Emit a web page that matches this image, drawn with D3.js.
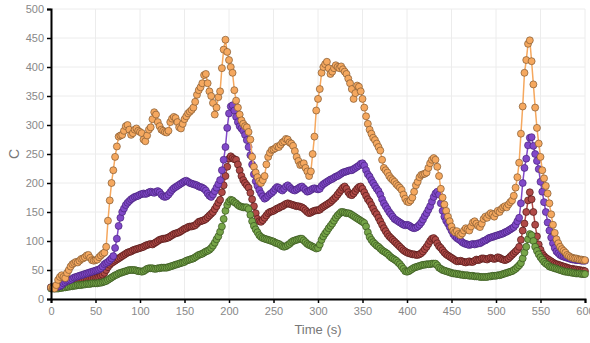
<!DOCTYPE html>
<html><head><meta charset="utf-8">
<script src="https://cdn.jsdelivr.net/npm/d3@7"></script>
<style>
html,body{margin:0;padding:0;background:#fff;}
svg{display:block;font-family:"Liberation Sans",Arial,sans-serif;}
</style></head>
<body><svg id="c" width="590" height="343"></svg>
<script>
// sampling: one value every 2 s, t = 0 .. 600
const timeStep = 2;
const xTicks = [0,50,100,150,200,250,300,350,400,450,500,550,600];
const yTicks = [0,50,100,150,200,250,300,350,400,450,500];
const xLabel = "Time (s)";
const yLabel = "C";

const seriesNames = ["S1","S2","S3","S4"];

const orange = [
20,19,18,24,33,38,41,38,36,45,
50,56,60,62,64,63,66,69,70,72,
75,76,71,67,66,67,68,72,75,78,
80,90,135,170,200,222,245,263,280,282,
283,290,298,300,292,283,286,292,294,290,
288,286,275,272,282,292,296,310,322,318,
305,298,292,290,288,287,290,305,311,314,
312,305,296,294,302,310,315,320,323,326,
330,340,352,360,365,372,386,388,372,358,
350,338,318,330,348,358,398,430,447,426,
412,400,390,360,342,330,318,308,302,298,
296,288,275,245,228,218,210,203,200,205,
212,232,245,252,257,258,260,263,262,266,
270,272,276,275,270,268,264,255,245,238,
231,232,234,226,220,212,220,250,280,325,
345,362,390,400,405,409,398,388,392,398,
403,400,398,401,396,392,388,380,372,362,
345,355,368,366,358,345,330,315,302,292,
285,278,274,268,262,256,240,226,222,218,
212,208,205,202,198,195,192,188,180,173,
168,167,170,175,185,196,202,210,214,215,
216,218,226,234,240,243,240,228,212,190,
175,163,152,142,134,125,118,115,117,112,
110,113,118,122,120,118,125,132,134,130,
126,124,130,138,142,140,145,148,146,142,
148,152,150,155,158,160,158,163,167,170,
178,192,210,235,285,332,390,412,440,446,
410,370,330,295,268,245,222,208,195,182,
165,146,128,114,103,96,90,86,83,80,
76,74,72,71,70,70,69,68,68,67,
67];

const purple = [
20,20,20,21,21,22,24,27,29,31,
32,33,35,37,38,39,40,41,42,43,
44,45,46,47,48,49,50,51,53,56,
60,62,64,67,70,74,88,104,126,140,
150,156,162,166,169,172,174,176,177,178,
180,181,182,181,182,184,185,184,183,185,
186,184,180,177,176,177,180,184,188,191,
193,195,197,199,201,203,204,202,200,199,
198,197,196,194,193,192,190,187,182,178,
176,180,186,192,198,205,222,240,262,295,
320,332,334,325,314,305,298,294,290,283,
274,262,248,232,215,203,195,188,182,177,
173,175,178,181,183,186,190,193,192,189,
187,190,194,196,193,190,188,187,189,191,
193,194,191,188,185,186,188,190,191,190,
189,190,195,198,200,202,204,206,207,209,
211,212,214,216,218,219,220,221,222,222,
224,226,228,230,233,234,230,222,215,211,
205,200,195,190,186,180,172,165,160,155,
150,146,142,138,136,134,132,130,128,127,
128,127,125,123,122,123,125,128,132,137,
143,148,154,160,168,176,182,185,180,165,
152,142,135,130,124,118,112,108,105,103,
101,98,96,95,94,93,94,95,94,95,
96,96,98,100,101,103,105,106,107,108,
109,110,111,112,113,115,116,118,120,122,
124,128,134,140,165,200,226,242,265,278,
279,264,250,238,224,202,185,167,150,132,
118,106,96,88,82,79,76,74,73,72,
71,70,69,68,68,67,67,67,66,66,
66];

const red = [
20,20,20,20,20,21,22,23,24,25,
26,27,28,29,30,31,32,33,33,34,
35,35,36,36,36,37,37,38,40,42,
45,50,55,59,62,64,66,68,70,72,
74,76,78,80,81,82,84,85,86,87,
88,89,90,92,93,94,95,94,96,98,
100,102,103,104,104,105,106,108,110,112,
113,114,115,117,119,121,122,124,125,125,
126,127,130,133,134,135,136,138,141,144,
147,150,155,160,166,171,184,196,212,228,
242,246,243,241,240,232,222,212,205,200,
196,192,183,172,160,148,138,134,133,136,
140,144,148,150,151,152,154,156,157,159,
160,162,164,165,164,163,162,161,160,160,
159,158,156,153,150,148,149,151,152,153,
153,154,157,159,161,163,165,167,170,173,
176,180,184,188,192,194,190,184,180,179,
182,186,190,193,194,190,184,178,172,168,
162,156,150,146,140,134,128,122,117,112,
108,105,102,99,96,93,90,87,84,82,
80,79,78,77,77,76,76,77,79,82,
86,90,95,100,104,105,102,96,91,88,
84,80,77,75,73,71,69,67,65,65,
66,65,64,63,64,65,64,64,66,68,
67,68,70,70,69,68,70,71,70,69,
70,72,71,69,68,67,68,70,73,76,
79,82,85,90,102,118,130,150,170,184,
172,150,128,108,94,85,78,74,71,69,
67,65,63,61,60,59,58,57,56,55,
54,53,52,52,51,51,50,50,49,49,
48];

const green = [
18,18,18,18,18,19,19,20,20,21,
21,22,22,23,23,24,24,24,25,25,
26,26,26,27,27,27,27,28,28,29,
30,31,33,35,37,39,41,42,44,45,
46,47,48,49,50,50,50,50,49,48,
48,47,48,50,52,53,53,53,52,52,
53,53,54,54,54,54,55,56,57,58,
59,60,61,62,63,64,66,67,68,69,
70,72,74,76,77,78,80,82,83,85,
88,92,97,103,108,116,125,138,152,162,
168,171,170,167,165,162,160,159,158,158,
158,155,145,134,126,120,115,110,107,105,
104,103,102,101,100,99,97,96,95,93,
91,90,91,93,95,98,100,101,102,103,
104,104,101,98,95,93,92,90,89,87,
88,94,102,108,113,117,122,126,130,135,
140,144,147,150,150,149,148,148,147,145,
143,141,139,137,135,133,131,125,115,107,
102,98,95,92,90,87,84,82,80,78,
75,72,70,68,66,63,60,56,52,48,
47,48,50,52,54,55,56,57,58,59,
59,60,60,60,61,61,61,58,54,52,
50,49,48,47,46,45,44,44,43,43,
42,42,41,41,41,40,40,40,39,39,
39,38,38,38,38,38,39,39,40,40,
40,41,41,42,43,44,45,46,47,48,
50,52,55,58,62,70,80,90,103,112,
110,100,90,83,77,72,68,64,61,59,
56,55,54,53,52,51,50,49,48,47,
47,46,46,45,45,44,44,44,43,43,
43];

// drawing order (bottom to top) and styles
const layers = [
  {values: red,    fill:"#b04a47", stroke:"#4e1616", line:"#b04a47"},
  {values: green,  fill:"#76a548", stroke:"#34501c", line:"#76a548"},
  {values: purple, fill:"#8149c8", stroke:"#46207a", line:"#8149c8"},
  {values: orange, fill:"#f5a85f", stroke:"#7e5630", line:"#f5a85f"}
];

const W = 590, H = 343;
const m = {l:51, t:9, r:5, b:44};
const svg = d3.select("#c");

const x = d3.scaleLinear().domain([0,600]).range([m.l, W - m.r]);
const y = d3.scaleLinear().domain([0,500]).range([H - m.b, m.t]);

// grid
const g = svg.append("g");
g.selectAll("line.vx").data(xTicks).join("line")
  .attr("x1", d=>x(d)).attr("x2", d=>x(d))
  .attr("y1", y(0)).attr("y2", y(500))
  .attr("stroke", "#ececec").attr("stroke-width", 1);
g.selectAll("line.hy").data(yTicks).join("line")
  .attr("x1", x(0)).attr("x2", x(600))
  .attr("y1", d=>y(d)).attr("y2", d=>y(d))
  .attr("stroke", "#ececec").attr("stroke-width", 1);

// series
const line = d3.line().x((d,i)=>x(i*timeStep)).y(d=>y(d));
layers.forEach(L => {
  const sg = svg.append("g");
  sg.append("path").datum(L.values)
    .attr("d", line).attr("fill","none")
    .attr("stroke", L.line).attr("stroke-width", 1.5);
  sg.selectAll("circle").data(L.values).join("circle")
    .attr("cx", (d,i)=>x(i*timeStep)).attr("cy", d=>y(d))
    .attr("r", 3.5)
    .attr("fill", L.fill).attr("stroke", L.stroke)
    .attr("stroke-width", 0.8).attr("stroke-opacity", 0.85);
});

// axes
const xAxis = d3.axisBottom(x).tickValues(xTicks).tickSize(4).tickPadding(4).tickFormat(d3.format("d"));
const yAxis = d3.axisLeft(y).tickValues(yTicks).tickSize(4).tickPadding(3).tickFormat(d3.format("d"));

const gx = svg.append("g").attr("transform", `translate(0,${y(0)})`).call(xAxis);
const gy = svg.append("g").attr("transform", `translate(${x(0)},0)`).call(yAxis);
[gx, gy].forEach(a => {
  a.select(".domain").attr("stroke", "#000").attr("stroke-width", 2);
  a.selectAll(".tick line").attr("stroke", "#000").attr("stroke-width", 1.5);
  a.selectAll(".tick text").attr("fill", "#888").attr("font-size", 11)
    .attr("font-family", "'Liberation Sans', Arial, sans-serif");
});

svg.append("text").attr("x", (x(0)+x(600))/2).attr("y", 334)
  .attr("text-anchor","middle").attr("fill","#777").attr("font-size", 13)
  .text(xLabel);
svg.append("text").attr("transform", `translate(19,${(y(0)+y(500))/2}) rotate(-90)`)
  .attr("text-anchor","middle").attr("fill","#777").attr("font-size", 14)
  .text(yLabel);
</script></body></html>
